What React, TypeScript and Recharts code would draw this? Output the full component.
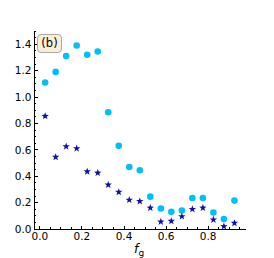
import { ScatterChart, Scatter, XAxis, YAxis } from 'recharts';

const fg = [0.025, 0.075, 0.125, 0.175, 0.225, 0.275, 0.325, 0.375, 0.425, 0.475, 0.525, 0.575, 0.625, 0.675, 0.725, 0.775, 0.825, 0.875, 0.925];
const circleVals = [1.11, 1.19, 1.31, 1.39, 1.32, 1.345, 0.885, 0.63, 0.47, 0.445, 0.245, 0.155, 0.13, 0.14, 0.235, 0.235, 0.125, 0.075, 0.215];
const starVals = [0.855, 0.545, 0.625, 0.61, 0.435, 0.425, 0.335, 0.28, 0.22, 0.21, 0.16, 0.055, 0.06, 0.095, 0.15, 0.16, 0.07, 0.02, 0.045];

const xMajor = [0, 0.2, 0.4, 0.6, 0.8];
const xMinor = [0, 0.05, 0.1, 0.15, 0.2, 0.25, 0.3, 0.35, 0.4, 0.45, 0.5, 0.55, 0.6, 0.65, 0.7, 0.75, 0.8, 0.85, 0.9, 0.95];
const yMajor = [0, 0.2, 0.4, 0.6, 0.8, 1.0, 1.2, 1.4];
const yMinor = [0, 0.05, 0.1, 0.15, 0.2, 0.25, 0.3, 0.35, 0.4, 0.45, 0.5, 0.55, 0.6, 0.65, 0.7, 0.75, 0.8, 0.85, 0.9, 0.95, 1.0, 1.05, 1.1, 1.15, 1.2, 1.25, 1.3, 1.35, 1.4, 1.45, 1.5];

const circles = fg.map((x, i) => ({ x, y: circleVals[i] }));
const stars = fg.map((x, i) => ({ x, y: starVals[i] }));

const FONT = '"DejaVu Sans", sans-serif';
const isMajor = (v: number, list: number[]) => list.some((m) => Math.abs(m - v) < 1e-6);

const BottomTick = (p: any) => {
  const v = p.payload.value;
  const major = isMajor(v, xMajor);
  return (
    <g>
      <line x1={p.x} x2={p.x} y1={p.y} y2={p.y - (major ? 3.5 : 2)} stroke="#000" strokeWidth={1} shapeRendering="crispEdges" />
      {major && (
        <text x={p.x} y={p.y + 11} textAnchor="middle" fontFamily={FONT} fontSize={10.5} fill="#000">
          {v.toFixed(1)}
        </text>
      )}
    </g>
  );
};

const TopTick = (p: any) => {
  const major = isMajor(p.payload.value, xMajor);
  return <line x1={p.x} x2={p.x} y1={p.y} y2={p.y + (major ? 3.5 : 2)} stroke="#000" strokeWidth={1} shapeRendering="crispEdges" />;
};

const LeftTick = (p: any) => {
  const v = p.payload.value;
  const major = isMajor(v, yMajor);
  return (
    <g>
      <line x1={p.x} x2={p.x + (major ? 3.5 : 2)} y1={p.y} y2={p.y} stroke="#000" strokeWidth={1} shapeRendering="crispEdges" />
      {major && (
        <text x={p.x - 2.5} y={p.y + 3.8} textAnchor="end" fontFamily={FONT} fontSize={10.5} fill="#000">
          {v.toFixed(1)}
        </text>
      )}
    </g>
  );
};

const RightTick = (p: any) => {
  const major = isMajor(p.payload.value, yMajor);
  return <line x1={p.x} x2={p.x - (major ? 3.5 : 2)} y1={p.y} y2={p.y} stroke="#000" strokeWidth={1} shapeRendering="crispEdges" />;
};

const Star = (p: any) => {
  const { cx, cy } = p;
  const pts: string[] = [];
  for (let k = 0; k < 10; k++) {
    const r = k % 2 === 0 ? 3.9 : 1.6;
    const a = -Math.PI / 2 + (k * Math.PI) / 5;
    pts.push(`${cx + r * Math.cos(a)},${cy + r * Math.sin(a)}`);
  }
  return <polygon points={pts.join(' ')} fill="#1111aa" />;
};

const Dot = (p: any) => <circle cx={p.cx} cy={p.cy} r={3.3} fill="#00bfff" />;

const axisLine = { stroke: '#000', strokeWidth: 1, shapeRendering: 'crispEdges' };

export default function App() {
  return (
    <div style={{ position: 'absolute', left: 0, top: 0, width: 274, height: 258, background: '#fff' }}>
      <ScatterChart width={274} height={258} margin={{ top: 31, right: 28, bottom: 0, left: 0 }}>
        <XAxis xAxisId="b" type="number" dataKey="x" domain={[-0.028, 0.98]} ticks={xMinor} interval={0}
          height={29} tickSize={0} tickMargin={0} axisLine={axisLine} tickLine={false} tick={BottomTick} allowDataOverflow />
        <XAxis xAxisId="t" orientation="top" type="number" dataKey="x" domain={[-0.028, 0.98]} ticks={xMinor} interval={0}
          height={0} tickSize={0} tickMargin={0} axisLine={axisLine} tickLine={false} tick={TopTick} allowDataOverflow />
        <YAxis yAxisId="l" type="number" dataKey="y" domain={[0, 1.5]} ticks={yMinor} interval={0}
          width={34} tickSize={0} tickMargin={0} axisLine={axisLine} tickLine={false} tick={LeftTick} allowDataOverflow />
        <YAxis yAxisId="r" orientation="right" type="number" dataKey="y" domain={[0, 1.5]} ticks={yMinor} interval={0}
          width={0} tickSize={0} tickMargin={0} axisLine={axisLine} tickLine={false} tick={RightTick} allowDataOverflow />
        <Scatter data={circles} xAxisId="b" yAxisId="l" shape={Dot} isAnimationActive={false} />
        <Scatter data={stars} xAxisId="t" yAxisId="r" shape={Star} isAnimationActive={false} />
      </ScatterChart>
      <div style={{ position: 'absolute', left: 37, top: 34, width: 23, height: 17, background: '#fbeed8', border: '1px solid #aaa',
        borderRadius: 4, fontFamily: FONT, fontSize: 11.5, lineHeight: '17px', textAlign: 'center', color: '#000' }}>
        (b)
      </div>
      <div style={{ position: 'absolute', left: 134, top: 243, fontFamily: FONT, fontSize: 12.5, color: '#000', lineHeight: 1 }}>
        <i>f</i><sub style={{ fontSize: 9, verticalAlign: 'baseline', position: 'relative', top: 3 }}>g</sub>
      </div>
    </div>
  );
}
